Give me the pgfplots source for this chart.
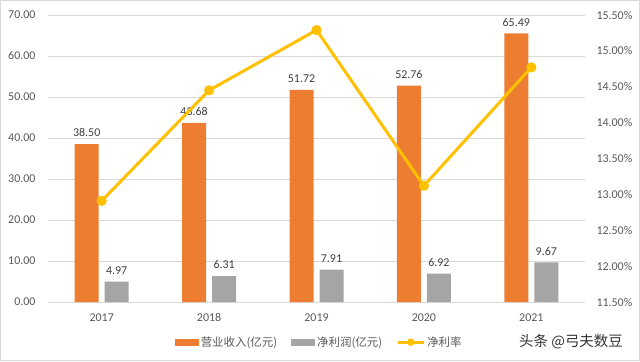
\documentclass[border=0pt]{standalone}
\usepackage{pgfplots}
\pgfplotsset{compat=1.18}
\usepackage{fontspec}
\setmainfont{Carlito}
\newfontfamily\cjk{Noto Sans CJK SC}
\definecolor{cOr}{HTML}{ED7D31}
\definecolor{cGr}{HTML}{A5A5A5}
\definecolor{cGo}{HTML}{FFC000}
\definecolor{cTx}{HTML}{595959}
\definecolor{cLb}{HTML}{404040}
\definecolor{cGrid}{HTML}{D9D9D9}
\begin{document}
\begin{tikzpicture}[x=1bp,y=1bp]
\useasboundingbox (0,0) rectangle (640,361);
\draw[cGrid, line width=1bp] (0.5,0.5) rectangle (639.5,360.5);
\begin{axis}[
  at={(48bp,59bp)}, anchor=south west,
  scale only axis, width=537bp, height=287bp,
  /pgf/number format/assume math mode=true,
  ybar=6bp, bar width=24bp,
  xmin=-0.5, xmax=4.5, ymin=0, ymax=70,
  xtick={0,1,2,3,4}, xticklabels={2017,2018,2019,2020,2021},
  ytick={0,10,...,70},
  yticklabel={\pgfmathprintnumber[fixed,fixed zerofill,precision=2]{\tick}},
  ymajorgrids, grid style={cGrid, line width=0.8bp},
  axis x line*=bottom, axis y line*=left,
  x axis line style={cGrid, line width=0.8bp, -},
  y axis line style={draw=none},
  major tick length=0pt, tick style={draw=none},
  ticklabel style={font=\fontsize{12}{14}\selectfont, text=cTx},
  yticklabel style={xshift=-9bp},
  xticklabel style={anchor=north, text height=8.5bp, text depth=0pt, yshift=-7bp},
  nodes near coords={\pgfmathprintnumber[fixed,fixed zerofill,precision=2]{\pgfplotspointmeta}},
  every node near coord/.append style={font=\fontsize{12}{14}\selectfont, text=cLb,
    anchor=south, text height=8.5bp, text depth=0pt, inner sep=0pt, yshift=7bp},
  legend columns=3,
  legend style={at={(0.505,-0.14)}, anchor=center, draw=none, fill=none,
    font=\cjk\fontsize{11.5}{13}\selectfont, text=cTx,
    /tikz/every even column/.append style={column sep=12bp}},
]
\addplot[fill=cOr, draw=none,
  legend image code/.code={\fill[cOr] (0bp,-3.5bp) rectangle (24bp,3.5bp);}]
  coordinates {(0,38.50) (1,43.68) (2,51.72) (3,52.76) (4,65.49)};
\addlegendentry{营业收入(亿元)}
\addplot[fill=cGr, draw=none,
  legend image code/.code={\fill[cGr] (0bp,-3.5bp) rectangle (24bp,3.5bp);}]
  coordinates {(0,4.97) (1,6.31) (2,7.91) (3,6.92) (4,9.67)};
\addlegendentry{净利润(亿元)}
\addlegendimage{legend image code/.code={\draw[cGo,line width=3bp] (0bp,0bp) -- (26bp,0bp); \fill[cGo] (13bp,0bp) circle (3.5bp);}}
\addlegendentry{净利率}
\end{axis}
\begin{axis}[
  at={(48bp,59bp)}, anchor=south west,
  scale only axis, width=537bp, height=287bp,
  /pgf/number format/assume math mode=true,
  xmin=-0.5, xmax=4.5, ymin=11.5, ymax=15.5,
  axis x line=none, axis y line*=right,
  y axis line style={draw=none},
  ytick={11.5,12,12.5,13,13.5,14,14.5,15,15.5},
  yticklabel={\pgfmathprintnumber[fixed,fixed zerofill,precision=2]{\tick}\%},
  major tick length=0pt, tick style={draw=none},
  ticklabel style={font=\fontsize{12}{14}\selectfont, text=cTx},
  yticklabel style={xshift=8bp},
  clip=false,
]
\addplot[cGo, line width=3bp, mark=*, mark size=3.5bp, mark options={fill=cGo, draw=cGo}]
  coordinates {(0,12.91) (1,14.45) (2,15.29) (3,13.12) (4,14.77)};
\end{axis}
\node[text=black!80, font=\cjk\fontsize{14.5}{16}\selectfont] at (571,19) {头条 @弓夫数豆};
\end{tikzpicture}
\end{document}
